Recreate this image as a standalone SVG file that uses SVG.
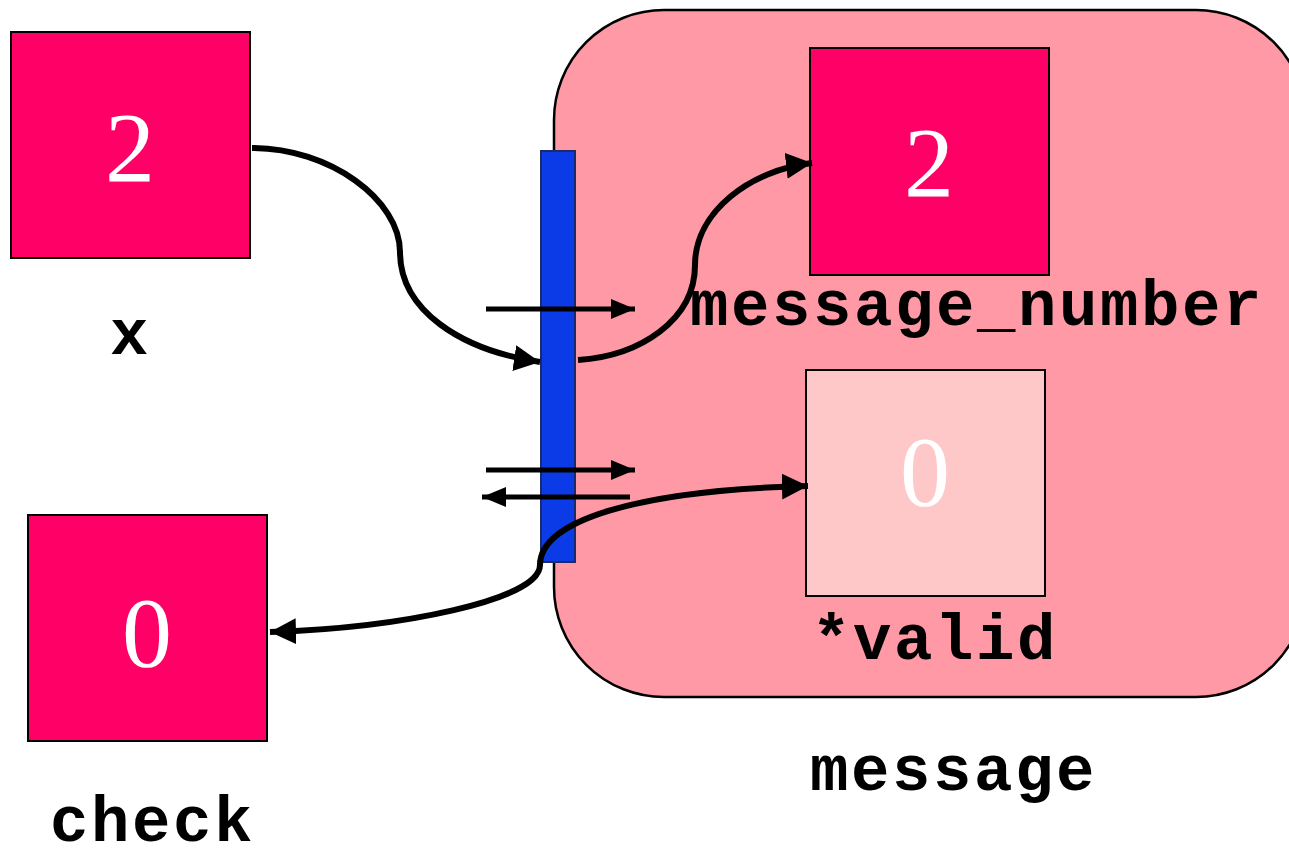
<svg xmlns="http://www.w3.org/2000/svg" width="1289" height="850" viewBox="0 0 1289 850">
  <style>
    .box { fill: #FF0066; stroke: #000; stroke-width: 2; }
    .light { fill: #FFC8C8; stroke: #000; stroke-width: 2; }
    .num { font-family: "Liberation Serif", serif; font-size: 100px; fill: #fff; text-anchor: middle; }
    .lbl { font-family: "Liberation Mono", "Courier New", monospace; font-weight: bold; font-size: 64px; letter-spacing: 2.6px; fill: #000; }
    .wire { fill: none; stroke: #000; stroke-width: 6; }
    .thin { fill: none; stroke: #000; stroke-width: 5; }
  </style>
  <defs>
    <marker id="head" markerUnits="userSpaceOnUse" markerWidth="28" markerHeight="26" refX="26" refY="13" orient="auto-start-reverse">
      <path d="M0,0 L26,13 L0,26 Z" fill="#000"/>
    </marker>
    <marker id="headSmall" markerUnits="userSpaceOnUse" markerWidth="24" markerHeight="20" refX="24" refY="10" orient="auto">
      <path d="M0,0 L24,10 L0,20 Z" fill="#000"/>
    </marker>
  </defs>

  <rect width="1289" height="850" fill="#fff"/>

  <!-- structure variable -->
  <g id="message">
    <rect x="554" y="10" width="752" height="687" rx="110" ry="110" fill="#FF99A6" stroke="#000" stroke-width="2.5"/>
    <text class="lbl" x="810" y="790">message</text>
  </g>

  <!-- interface bar -->
  <g id="bar">
    <rect x="541" y="151" width="34" height="411" fill="#0A3BE6" stroke="#1A2A6A" stroke-width="2"/>
  </g>

  <g id="x">
    <rect class="box" x="11" y="32" width="239" height="226"/>
    <text class="num" x="130" y="181">2</text>
    <text class="lbl" x="110" y="354">x</text>
  </g>

  <g id="message_number">
    <rect class="box" x="810" y="48" width="239" height="227"/>
    <text class="num" x="929" y="196">2</text>
    <text class="lbl" x="690" y="325">message_number</text>
  </g>

  <g id="valid">
    <rect class="light" x="806" y="370" width="239" height="226"/>
    <text class="num" x="925" y="505">0</text>
    <text class="lbl" x="812" y="659">*valid</text>
  </g>

  <g id="check">
    <rect class="box" x="28" y="515" width="239" height="226"/>
    <text class="num" x="147" y="666">0</text>
    <text class="lbl" x="50" y="841">check</text>
  </g>

  <g id="connectors">
    <path class="wire" d="M252,148 C330,148 400,200 400,252 C400,310 460,350 540,362" marker-end="url(#head)"/>
    <path class="wire" d="M578,360 C640,356 695,320 695,265 C695,212 750,170 812,163" marker-end="url(#head)"/>
    <path class="wire" d="M270,632 C400,628 540,600 540,565 C540,520 640,490 808,486" marker-start="url(#head)" marker-end="url(#head)"/>
    <path class="thin" d="M486,309 L635,309" marker-end="url(#headSmall)"/>
    <path class="thin" d="M486,470 L635,470" marker-end="url(#headSmall)"/>
    <path class="thin" d="M630,497 L482,497" marker-end="url(#headSmall)"/>
  </g>
</svg>
